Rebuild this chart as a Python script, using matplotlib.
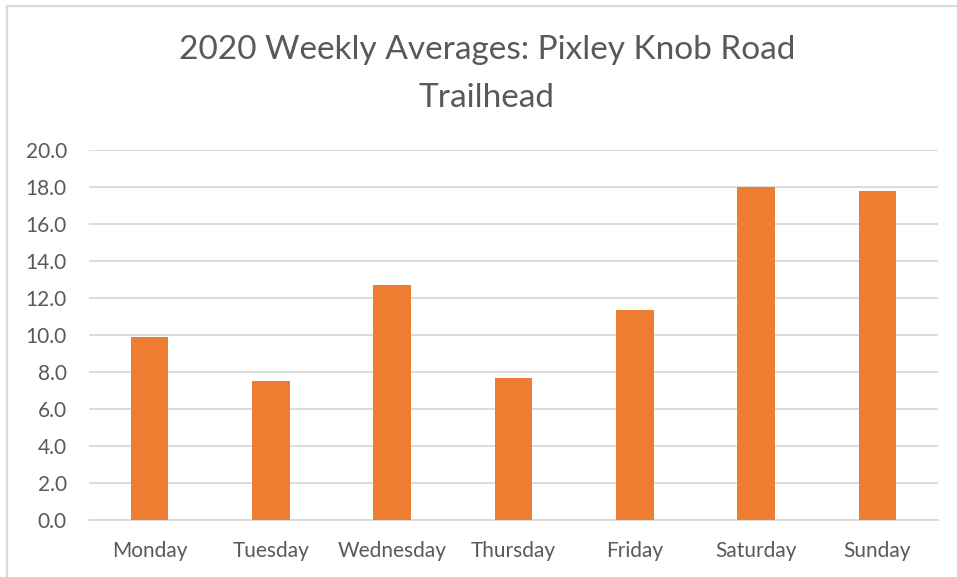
import matplotlib.pyplot as plt
from matplotlib.lines import Line2D

# ================= DATA =================
days = ["Monday", "Tuesday", "Wednesday", "Thursday", "Friday", "Saturday", "Sunday"]
averages = [9.9, 7.5, 12.7, 7.7, 11.35, 18.0, 17.8]
yticks = [0, 2, 4, 6, 8, 10, 12, 14, 16, 18, 20]

TITLE = "2020 Weekly Averages: Pixley Knob Road\nTrailhead"
BAR_COLOR = "#ED7D31"
TEXT_COLOR = "#595959"
GRID_COLOR = "#D9D9D9"

plt.rcParams["font.family"] = ["Lato", "DejaVu Sans"]

# ================= PLOT =================
fig = plt.figure(figsize=(9.57, 5.77), dpi=100)
ax = fig.add_axes([89 / 957, 57 / 577, 849 / 957, 370 / 577])

x = range(len(days))
ax.bar(x, averages, width=0.31, color=BAR_COLOR, zorder=3)

ax.set_xlim(-0.5, len(days) - 0.5)
ax.set_ylim(0, 20)
ax.set_yticks(yticks)
ax.set_yticklabels([f"{v:.1f}" for v in yticks])
ax.set_xticks(list(x))
ax.set_xticklabels(days)

ax.grid(axis="y", color=GRID_COLOR, linewidth=1.3, zorder=0)
ax.tick_params(axis="both", length=0, labelsize=15, colors=TEXT_COLOR)
ax.tick_params(axis="y", pad=16)
ax.tick_params(axis="x", pad=15)
for side in ["top", "right", "left"]:
    ax.spines[side].set_visible(False)
ax.spines["bottom"].set_color(GRID_COLOR)
ax.spines["bottom"].set_linewidth(1.3)

fig.text(487 / 957, 1 - 74 / 577, TITLE, ha="center", va="center",
         fontsize=24, color=TEXT_COLOR, linespacing=1.75)

# chart border (only top and left visible in the crop)
fig.add_artist(Line2D([7 / 957, 7 / 957], [0, 1 - 6 / 577], transform=fig.transFigure,
                      color=GRID_COLOR, linewidth=1.6))
fig.add_artist(Line2D([7 / 957, 1], [1 - 6 / 577, 1 - 6 / 577], transform=fig.transFigure,
                      color=GRID_COLOR, linewidth=1.6))

plt.savefig("out.png", dpi=100)
plt.close()
